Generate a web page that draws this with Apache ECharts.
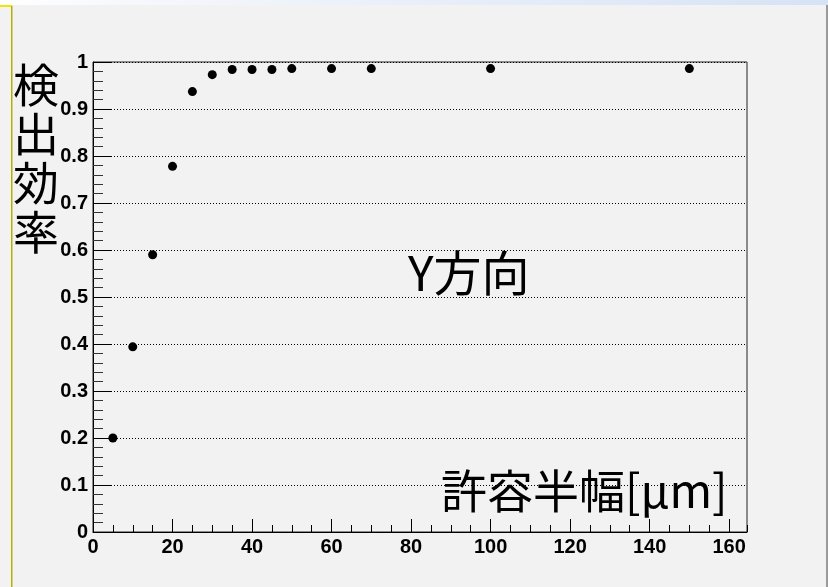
<!DOCTYPE html>
<html>
<head>
<meta charset="utf-8">
<script src="https://cdn.jsdelivr.net/npm/echarts@6/dist/echarts.min.js"></script>
<style>
html,body{margin:0;padding:0;background:#f2f2f2;}
#chart{width:828px;height:587px;}
</style>
</head>
<body>
<div id="chart"></div>
<script>
// Data
const widths = [5, 10, 15, 20, 25, 30, 35, 40, 45, 50, 60, 70, 100, 150];
const efficiency = [0.200, 0.394, 0.590, 0.778, 0.937, 0.973, 0.984, 0.984, 0.984, 0.986, 0.986, 0.986, 0.986, 0.986];
const yTitleChars = ['検', '出', '効', '率'];
const xTitle = '許容半幅[μm]';
const innerLabel = 'Y方向';

const points = widths.map((w, i) => [w, efficiency[i]]);
const tickFont = {fontFamily: 'Liberation Sans', fontWeight: 'bold', fontSize: 20, color: '#000'};
const cjk = '"Noto Sans CJK JP", "Noto Sans", sans-serif';

const chart = echarts.init(document.getElementById('chart'), null, {renderer: 'canvas'});
chart.setOption({
  backgroundColor: '#f2f2f2',
  animation: false,
  grid: {left: 93, top: 62, width: 654, height: 470, show: true, borderColor: '#222', borderWidth: 1, backgroundColor: 'transparent', containLabel: false},
  xAxis: [{
    type: 'value', min: 0, max: 164.5, interval: 20,
    axisLine: {show: true, lineStyle: {color: '#000', width: 1}},
    axisTick: {show: true, inside: true, length: 13, lineStyle: {color: '#000'}},
    axisLabel: Object.assign({margin: 5, showMaxLabel: false,
      formatter: v => (v % 20 === 0 ? String(v) : '')}, tickFont),
    splitLine: {show: false}
  }, {
    type: 'value', min: 0, max: 164.5, interval: 5, position: 'bottom',
    axisLine: {show: false},
    axisTick: {show: true, inside: true, length: 7, lineStyle: {color: '#000'}},
    axisLabel: {show: false},
    splitLine: {show: false}
  }],
  yAxis: {
    type: 'value', min: 0, max: 1, interval: 0.1,
    axisLine: {show: true, lineStyle: {color: '#000', width: 1}},
    axisTick: {show: true, inside: true, length: 19, lineStyle: {color: '#000'}},
    minorTick: {show: true, splitNumber: 5, length: 10, lineStyle: {color: '#333'}},
    axisLabel: Object.assign({margin: 5, formatter: v => String(Math.round(v * 10) / 10)}, tickFont),
    splitLine: {show: true, lineStyle: {color: '#000', type: [1, 2], width: 1}}
  },
  series: [{
    type: 'scatter', xAxisIndex: 0, data: points, symbol: 'circle', symbolSize: 9,
    itemStyle: {color: '#000', opacity: 1}
  }],
  graphic: [
    {type: 'rect', shape: {x: 0, y: 0, width: 828, height: 5}, style: {fill: new echarts.graphic.LinearGradient(0, 0, 1, 0, [{offset: 0, color: '#ffffff'}, {offset: 0.15, color: '#f6f8fc'}, {offset: 1, color: '#d6e3f5'}])}, silent: true},
    {type: 'rect', shape: {x: 0, y: 5, width: 12, height: 2}, style: {fill: '#f2e600'}, silent: true},
    {type: 'rect', shape: {x: 11, y: 6, width: 1.5, height: 581}, style: {fill: '#b5b000'}, silent: true},
    {type: 'rect', shape: {x: 826, y: 5, width: 2, height: 582}, style: {fill: '#9a9a9a'}, silent: true},
    {type: 'text', left: 13, top: 60, style: {text: yTitleChars.join('\n'), font: '46px ' + cjk, lineHeight: 49, fill: '#000', align: 'left'}, silent: true},
    {type: 'text', left: 408, top: 249, style: {text: innerLabel, font: '48px ' + cjk, fill: '#000'}, silent: true},
    {type: 'text', left: 441, top: 468, style: {text: xTitle, font: '46px ' + cjk, fill: '#000'}, silent: true}
  ]
});
</script>
</body>
</html>
